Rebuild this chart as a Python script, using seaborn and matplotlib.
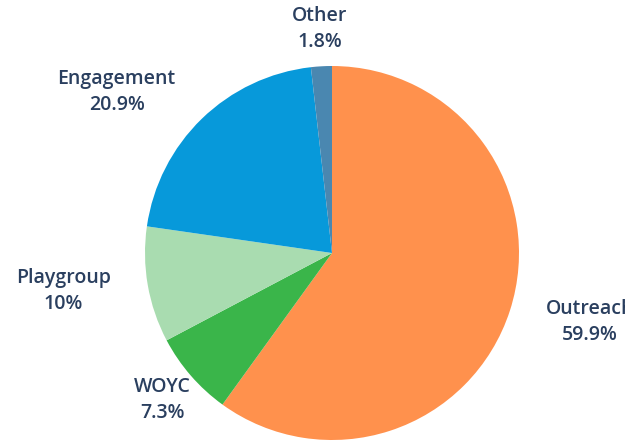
import numpy as np
import seaborn as sns
import matplotlib.pyplot as plt

labels = ["Outreach", "WOYC", "Playgroup", "Engagement", "Other"]
values = [59.9, 7.3, 10, 20.9, 1.8]
pct_text = ["59.9%", "7.3%", "10%", "20.9%", "1.8%"]
colors = ["#ff914d", "#3ab54a", "#a9dcb0", "#0799da", "#4a87b0"]
# horizontal anchor of each outside label
label_ha = ["left", "center", "right", "right", "center"]

sns.set_style("white")
plt.rcParams['font.family'] = ['Open Sans', 'DejaVu Sans']

fig = plt.figure(figsize=(6.25, 4.42), dpi=100)
ax = fig.add_axes([145 / 625, 2 / 442, 374 / 625, 374 / 442])

wedges, _ = ax.pie(values, colors=colors, startangle=90, counterclock=False,
                   radius=1, wedgeprops=dict(linewidth=0))
ax.set_xlim(-1, 1)
ax.set_ylim(-1, 1)
ax.axis("off")

for w, lab, pct, ha in zip(wedges, labels, pct_text, label_ha):
    ang = np.deg2rad((w.theta1 + w.theta2) / 2)
    d = 1.2
    ax.text(d * np.cos(ang), d * np.sin(ang), f"{lab}\n{pct}", ha=ha, va="center",
            multialignment="center", fontsize=14, color="#2a3f5f",
            fontweight="semibold", linespacing=1.4)

fig.savefig("out.png", dpi=100)
